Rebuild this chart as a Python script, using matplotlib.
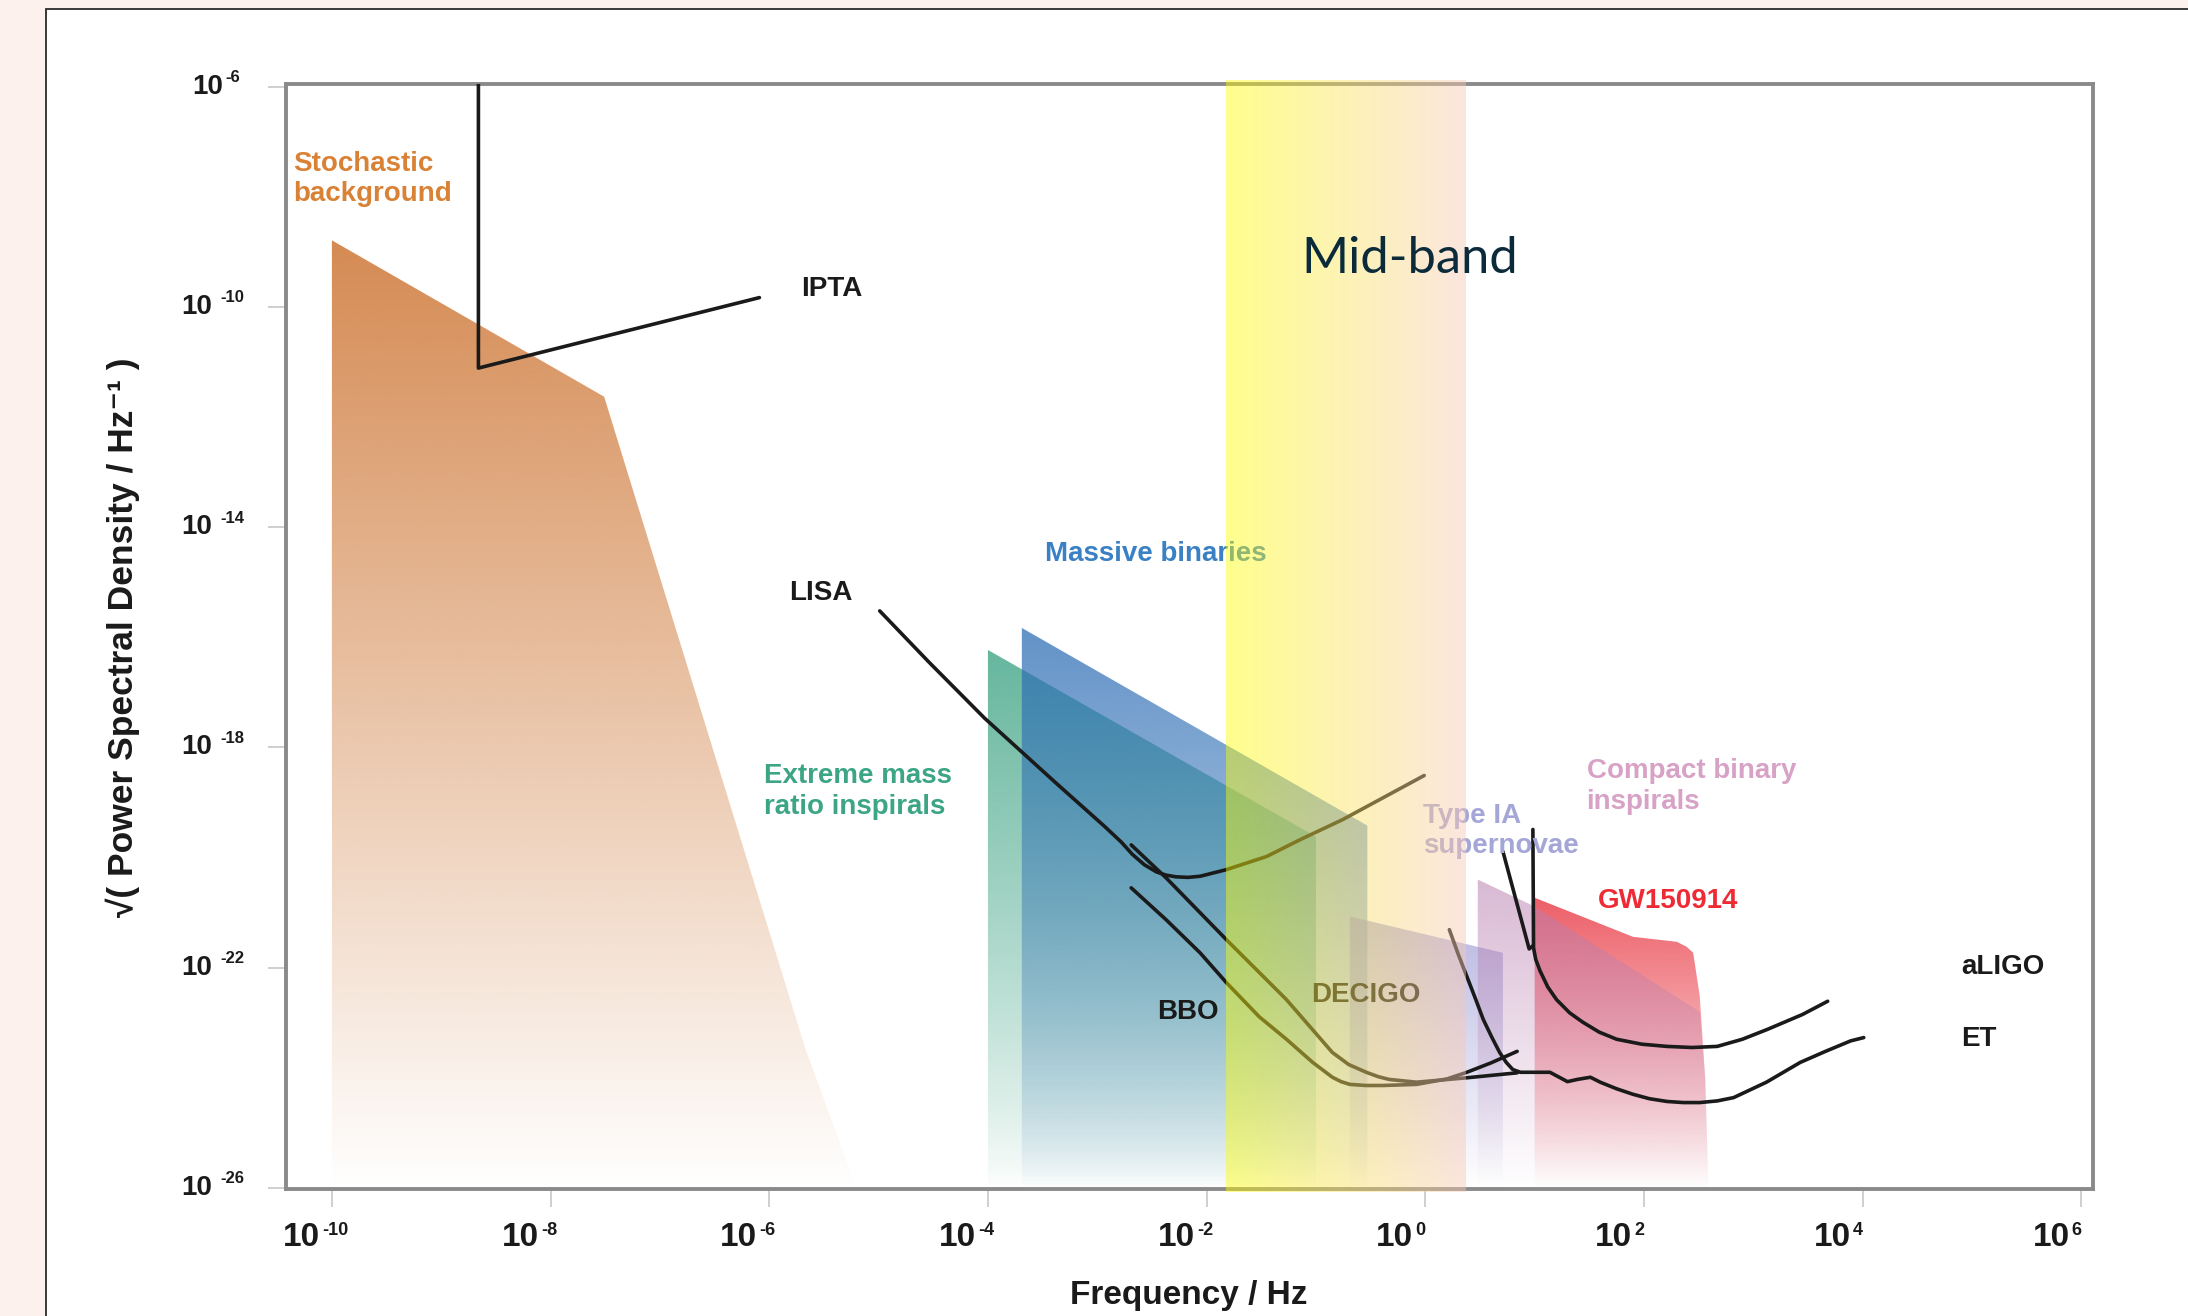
import numpy as np
import matplotlib
matplotlib.use("Agg")
import matplotlib.pyplot as plt
from matplotlib.patches import Polygon, Rectangle
from matplotlib.colors import to_rgb

plt.rcParams['font.family'] = ['Liberation Sans', 'DejaVu Sans']

# everything below is in log10 units: lf = log10(f / Hz), lh = log10(sqrt(PSD))
lf_min, lf_max = -10.42, 6.107
lh_min, lh_max = -26.02, -5.95

x_tick_exp = [-10, -8, -6, -4, -2, 0, 2, 4, 6]
y_tick_exp = [-6, -10, -14, -18, -22, -26]

# source regions: top edge from the left, the shape is closed down to the floor
stoch_lf = [-10.0, -7.51, -5.67, -5.23]
stoch_lh = [-8.79, -11.63, -23.47, -25.85]
emri_lf = [-4.0, -1.0]
emri_lh = [-16.23, -19.62]
massive_lf = [-3.69, -0.53]
massive_lh = [-15.83, -19.42]
typeia_lf = [-0.69, 0.71]
typeia_lh = [-21.07, -21.73]
gw_lf = [1.0, 1.9, 2.30, 2.39, 2.45, 2.51, 2.56, 2.59]
gw_lh = [-20.73, -21.44, -21.53, -21.62, -21.73, -22.52, -24.0, -26.0]
compact_lf = [0.48, 0.98, 2.51, 2.56, 2.59]
compact_lh = [-20.40, -20.87, -22.80, -24.0, -26.0]

# detector sensitivity curves
ipta_lf = [-8.66, -8.66, -6.09]
ipta_lh = [-5.95, -11.11, -9.83]
lisa_lf = [-4.99, -4.54, -4.03, -3.37, -2.93, -2.78, -2.68, -2.57, -2.46, -2.37,
           -2.28, -2.17, -2.06, -1.82, -1.45, -1.15, -0.755, -0.01]
lisa_lh = [-15.52, -16.45, -17.47, -18.66, -19.44, -19.72, -19.94, -20.13, -20.26,
           -20.32, -20.35, -20.36, -20.34, -20.22, -19.98, -19.68, -19.31, -18.51]
bbo_lf = [-2.69, -2.37, -2.06, -1.82, -1.52, -1.27, -1.03, -0.93, -0.85, -0.77,
          -0.69, -0.54, -0.39, -0.08, 0.20, 0.38, 0.60, 0.84]
bbo_lh = [-20.55, -21.13, -21.73, -22.27, -22.89, -23.30, -23.72, -23.87, -23.99,
          -24.07, -24.12, -24.14, -24.14, -24.12, -24.02, -23.90, -23.73, -23.52]
decigo_lf = [-2.69, -2.37, -1.82, -1.27, -0.85, -0.70, -0.54, -0.43, -0.33, -0.08,
             0.38, 0.84]
decigo_lh = [-19.77, -20.37, -21.49, -22.58, -23.54, -23.76, -23.90, -23.98, -24.03,
             -24.08, -24.00, -23.91]
aligo_lf = [0.984, 0.99, 1.01, 1.05, 1.12, 1.20, 1.32, 1.44, 1.59, 1.75, 1.98, 2.21,
            2.44, 2.67, 2.90, 3.13, 3.45, 3.68]
aligo_lh = [-19.49, -21.64, -21.85, -22.06, -22.35, -22.58, -22.82, -22.99, -23.17,
            -23.30, -23.39, -23.43, -23.45, -23.43, -23.30, -23.12, -22.85, -22.61]
aligo_notch_lf = [0.71, 0.95, 0.985]
aligo_notch_lh = [-19.89, -21.66, -21.60]
et_lf = [0.22, 0.30, 0.38, 0.46, 0.53, 0.61, 0.68, 0.74, 0.80, 0.87, 1.14, 1.30,
         1.39, 1.51, 1.60, 1.75, 1.90, 2.05, 2.21, 2.36, 2.51, 2.67, 2.82, 3.12,
         3.43, 3.66, 3.89, 4.01]
et_lh = [-21.31, -21.75, -22.16, -22.57, -22.94, -23.27, -23.54, -23.72, -23.85,
         -23.90, -23.90, -24.07, -24.03, -23.99, -24.08, -24.20, -24.30, -24.38,
         -24.43, -24.45, -24.45, -24.42, -24.36, -24.08, -23.72, -23.52, -23.33,
         -23.27]

midband_lf = [-1.826, 0.368]


def to_ax_x(v):
    return (v - lf_min) / (lf_max - lf_min)


def to_ax_y(v):
    return (v - lh_min) / (lh_max - lh_min)


def shade(ax, lf, lh, color, top_alpha, z, power=1.0):
    # polygon used only as a clip path for a vertical alpha ramp
    pts = list(zip(lf, lh)) + [(lf[-1], lh_min - 0.5), (lf[0], lh_min - 0.5)]
    pts = 10.0 ** np.array(pts)
    clip = Polygon(pts, closed=True, transform=ax.transData, fc='none', ec='none')
    ax.add_patch(clip)
    top = to_ax_y(max(lh))
    yy = np.linspace(0, 1, 600)
    a = top_alpha * np.clip(yy / top, 0, 1) ** power
    img = np.zeros((600, 2, 4))
    img[..., :3] = to_rgb(color)
    img[..., 3] = a[:, None]
    im = ax.imshow(img, extent=[0, 1, 0, 1], transform=ax.transAxes, origin='lower',
                   aspect='auto', interpolation='bilinear', zorder=z)
    im.set_clip_path(clip)


fig = plt.figure(figsize=(21.88, 13.16), dpi=100, facecolor='#FDF1ED')
fig.add_artist(Rectangle((46 / 2188, -0.05), 1.0, 1.05 - 9 / 1316, transform=fig.transFigure,
                         fc='white', ec='#2b2b2b', lw=1.3, zorder=-1))

ax = fig.add_axes([0.1307, 0.0965, 0.8259, 0.8397])
ax.set_xscale('log')
ax.set_yscale('log')
ax.set_xlim(10 ** lf_min, 10 ** lf_max)
ax.set_ylim(10 ** lh_min, 10 ** lh_max)
ax.set_autoscale_on(False)

# filled source regions
shade(ax, stoch_lf, stoch_lh, '#D58A52', 1.0, 1.0)
shade(ax, emri_lf, emri_lh, '#2A9A78', 0.72, 1.1, 0.8)
shade(ax, massive_lf, massive_lh, '#2E6EB5', 0.75, 1.2, 0.8)
shade(ax, typeia_lf, typeia_lh, '#8E8CD0', 0.62, 1.3)
shade(ax, gw_lf, gw_lh, '#E8303C', 0.78, 1.4)
shade(ax, compact_lf, compact_lh, '#B97FB0', 0.55, 1.5)

# sensitivity curves
for lf, lh in [(ipta_lf, ipta_lh), (lisa_lf, lisa_lh), (bbo_lf, bbo_lh),
               (decigo_lf, decigo_lh), (aligo_lf, aligo_lh),
               (aligo_notch_lf, aligo_notch_lh), (et_lf, et_lh)]:
    ax.plot(10.0 ** np.array(lf), 10.0 ** np.array(lh), color='#1a1a1a', lw=2.6,
            solid_capstyle='round', solid_joinstyle='round', zorder=3)

# region and detector labels
labels = [
    ('Stochastic\nbackground', -10.353, -7.68, '#D98236'),
    ('IPTA', -5.71, -9.68, '#1a1a1a'),
    ('LISA', -5.82, -15.19, '#1a1a1a'),
    ('Massive binaries', -3.48, -14.48, '#3A80C4'),
    ('Extreme mass\nratio inspirals', -6.05, -18.80, '#3BA585'),
    ('Type IA\nsupernovae', -0.02, -19.52, '#A5A6D8'),
    ('Compact binary\ninspirals', 1.475, -18.71, '#D7A2C6'),
    ('GW150914', 1.576, -20.79, '#EE2A35'),
    ('BBO', -2.45, -22.81, '#1a1a1a'),
    ('DECIGO', -1.04, -22.49, '#1a1a1a'),
    ('aLIGO', 4.90, -21.98, '#1a1a1a'),
    ('ET', 4.90, -23.30, '#1a1a1a'),
]
for txt, lf, lh, c in labels:
    ax.text(10 ** lf, 10 ** lh, txt, color=c, fontsize=20, fontweight='bold',
            ha='left', va='center', linespacing=1.22, zorder=4)

# mid-band highlight, laid over everything
n = 256
t = np.linspace(0, 1, n)
c0 = np.array([255, 255, 0]) / 255
c1 = np.array([248, 200, 182]) / 255
band = np.zeros((2, n, 4))
band[..., :3] = c0 + (c1 - c0) * t[:, None]
band[..., 3] = 0.45
ax.imshow(band, extent=[to_ax_x(midband_lf[0]), to_ax_x(midband_lf[1]), -0.003, 1.003],
          transform=ax.transAxes, origin='lower', aspect='auto',
          interpolation='bilinear', zorder=5, clip_on=False)
ax.text(10 ** -1.13, 10 ** -9.385, 'Mid-band', family='Lato', fontsize=36.5,
        color='#0B2B3B', va='baseline', ha='left', zorder=6)

# frame and ticks
for s in ax.spines.values():
    s.set_color('#8a8a8a')
    s.set_linewidth(2.8)
ax.set_xticks([10.0 ** e for e in x_tick_exp])
ax.set_yticks([10.0 ** e for e in y_tick_exp])
ax.minorticks_off()
ax.tick_params(direction='out', length=13, width=1.3, color='#cccccc',
               labelbottom=False, labelleft=False)

for e in x_tick_exp:
    ax.annotate('10', xy=(10.0 ** e, 0), xycoords=('data', 'axes fraction'),
                xytext=(-8.5, -24), textcoords='offset points', ha='right', va='top',
                fontsize=24, fontweight='bold', color='#1a1a1a')
    ax.annotate(str(e), xy=(10.0 ** e, 0), xycoords=('data', 'axes fraction'),
                xytext=(-7, -24), textcoords='offset points', ha='left', va='top',
                fontsize=13, fontweight='bold', color='#1a1a1a')
for e in y_tick_exp:
    shift = 8 if abs(e) < 10 else 0
    ax.annotate('10', xy=(0, 10.0 ** e), xycoords=('axes fraction', 'data'),
                xytext=(-53 + shift, 0), textcoords='offset points', ha='right',
                va='center', fontsize=20, fontweight='bold', color='#1a1a1a')
    ax.annotate(str(e), xy=(0, 10.0 ** e), xycoords=('axes fraction', 'data'),
                xytext=(-47 + shift * 0.45, 6.5), textcoords='offset points', ha='left',
                va='center', fontsize=12, fontweight='bold', color='#1a1a1a')

fig.text(0.5434, 0.0152, 'Frequency / Hz', fontsize=24, fontweight='bold',
         ha='center', va='center', color='#1a1a1a')
fig.text(0.0562, 0.516, '√( Power Spectral Density / Hz⁻¹ )', fontsize=25.5,
         fontweight='bold', rotation=90, ha='center', va='center', color='#1a1a1a')

fig.savefig('out.png', dpi=100, facecolor=fig.get_facecolor())
